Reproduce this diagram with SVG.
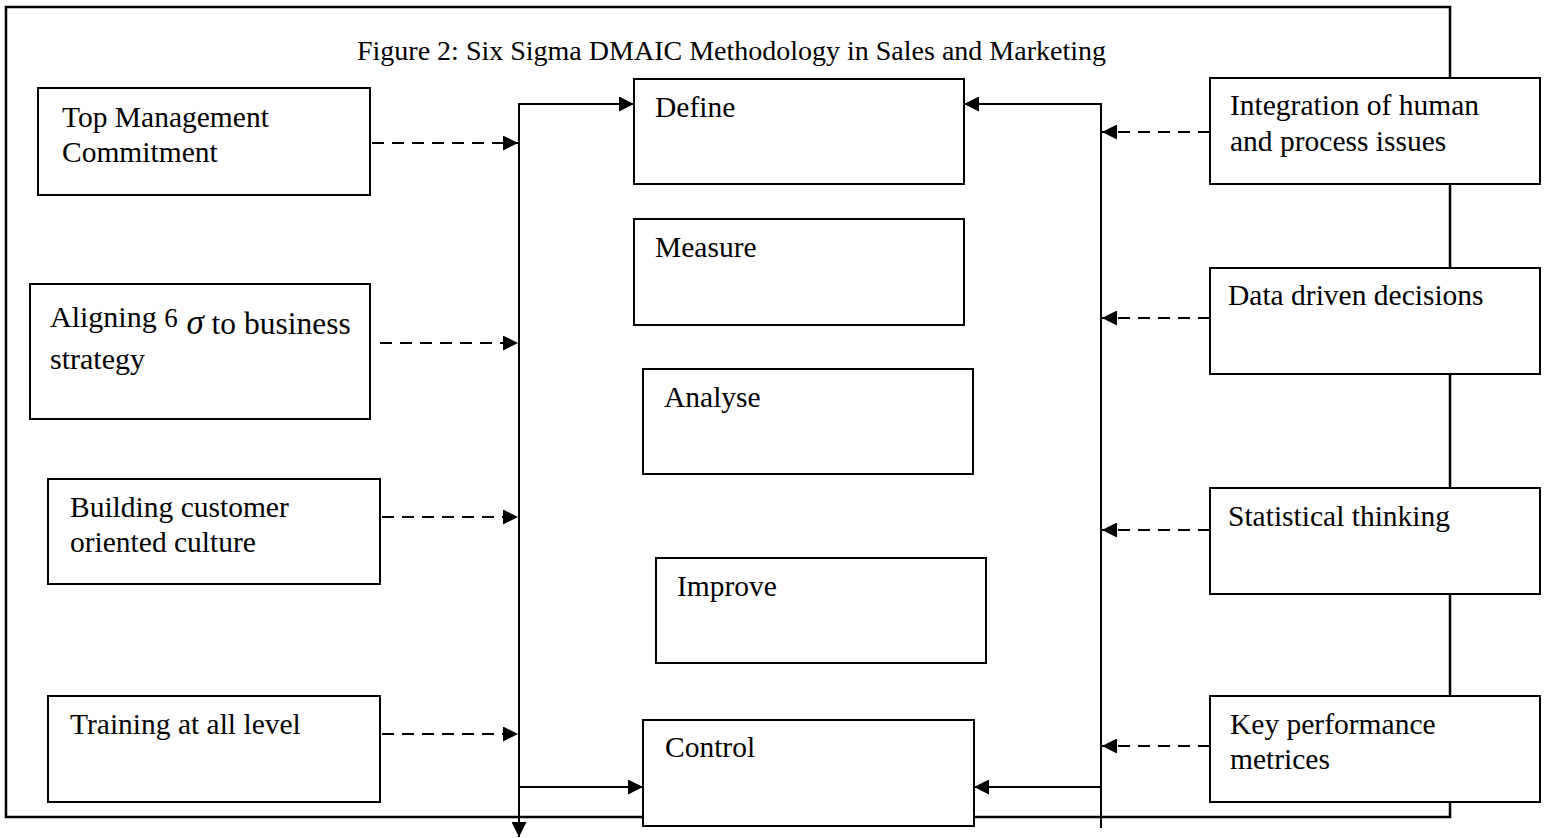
<svg xmlns="http://www.w3.org/2000/svg" width="1546" height="838" viewBox="0 0 1546 838">
<defs>
<marker id="ah" viewBox="0 0 10 10" refX="10" refY="5" markerWidth="15" markerHeight="15" markerUnits="userSpaceOnUse" orient="auto">
<path d="M0,0 L10,5 L0,10 z" fill="#000"/>
</marker>
</defs>
<style>
.box{fill:#fff;stroke:#000;stroke-width:2}
.t{font-family:"Liberation Serif","Times New Roman",serif;font-size:29.5px;fill:#000}
.title{font-size:28px}
.big{font-size:30px}
.ln{fill:none;stroke:#000;stroke-width:2}
.dash{fill:none;stroke:#000;stroke-width:2;stroke-dasharray:12 8}
</style>
<rect width="1546" height="838" fill="#fff"/>
<rect id="frame" x="6" y="7" width="1444" height="810" fill="none" stroke="#000" stroke-width="2.5"/>
<text class="t title" x="357" y="60">Figure 2: Six Sigma DMAIC Methodology in Sales and Marketing</text>
<g id="connectors">
<polyline class="ln" points="519,800 519,104 634,104" marker-end="url(#ah)"/>
<line class="ln" x1="519" y1="787" x2="643" y2="787" marker-end="url(#ah)"/>
<line class="ln" x1="519" y1="795" x2="519" y2="837" marker-end="url(#ah)"/>
<polyline class="ln" points="1101,828 1101,104 964,104" marker-end="url(#ah)"/>
<line class="ln" x1="1101" y1="787" x2="974" y2="787" marker-end="url(#ah)"/>
<line class="dash" x1="372" y1="143" x2="518" y2="143" marker-end="url(#ah)"/>
<line class="dash" x1="380" y1="343" x2="518" y2="343" marker-end="url(#ah)"/>
<line class="dash" x1="382" y1="517" x2="518" y2="517" marker-end="url(#ah)"/>
<line class="dash" x1="382" y1="734" x2="518" y2="734" marker-end="url(#ah)"/>
<line class="dash" x1="1210" y1="132" x2="1102" y2="132" marker-end="url(#ah)"/>
<line class="dash" x1="1210" y1="318" x2="1102" y2="318" marker-end="url(#ah)"/>
<line class="dash" x1="1210" y1="530" x2="1102" y2="530" marker-end="url(#ah)"/>
<line class="dash" x1="1210" y1="746" x2="1102" y2="746" marker-end="url(#ah)"/>
</g>
<g id="n-top"><rect class="box" x="38" y="88" width="332" height="107"/><text class="t" x="62" y="127">Top Management</text><text class="t" x="62" y="162">Commitment</text></g>
<g id="n-align"><rect class="box" x="30" y="284" width="340" height="135"/><text class="t big" x="50" y="327">Aligning <tspan font-size="27">6</tspan><tspan font-size="35" font-style="italic" dy="7"> σ</tspan><tspan font-size="31.5"> to business</tspan></text><text class="t big" x="50" y="369">strategy</text></g>
<g id="n-build"><rect class="box" x="48" y="479" width="332" height="105"/><text class="t" x="70" y="517">Building customer</text><text class="t" x="70" y="552">oriented culture</text></g>
<g id="n-train"><rect class="box" x="48" y="696" width="332" height="106"/><text class="t" x="70" y="734">Training at all level</text></g>
<g id="n-define"><rect class="box" x="634" y="79" width="330" height="105"/><text class="t" x="655" y="117">Define</text></g>
<g id="n-measure"><rect class="box" x="634" y="219" width="330" height="106"/><text class="t" x="655" y="257">Measure</text></g>
<g id="n-analyse"><rect class="box" x="643" y="369" width="330" height="105"/><text class="t" x="664" y="407">Analyse</text></g>
<g id="n-improve"><rect class="box" x="656" y="558" width="330" height="105"/><text class="t" x="677" y="596">Improve</text></g>
<g id="n-control"><rect class="box" x="643" y="720" width="331" height="106"/><text class="t" x="665" y="757">Control</text></g>
<g id="n-integ"><rect class="box" x="1210" y="78" width="330" height="106"/><text class="t" x="1230" y="115">Integration of human</text><text class="t" x="1230" y="151">and process issues</text></g>
<g id="n-data"><rect class="box" x="1210" y="268" width="330" height="106"/><text class="t" x="1228" y="305">Data driven decisions</text></g>
<g id="n-stat"><rect class="box" x="1210" y="488" width="330" height="106"/><text class="t" x="1228" y="526">Statistical thinking</text></g>
<g id="n-kpi"><rect class="box" x="1210" y="696" width="330" height="106"/><text class="t" x="1230" y="734">Key performance</text><text class="t" x="1230" y="769">metrices</text></g>
</svg>
